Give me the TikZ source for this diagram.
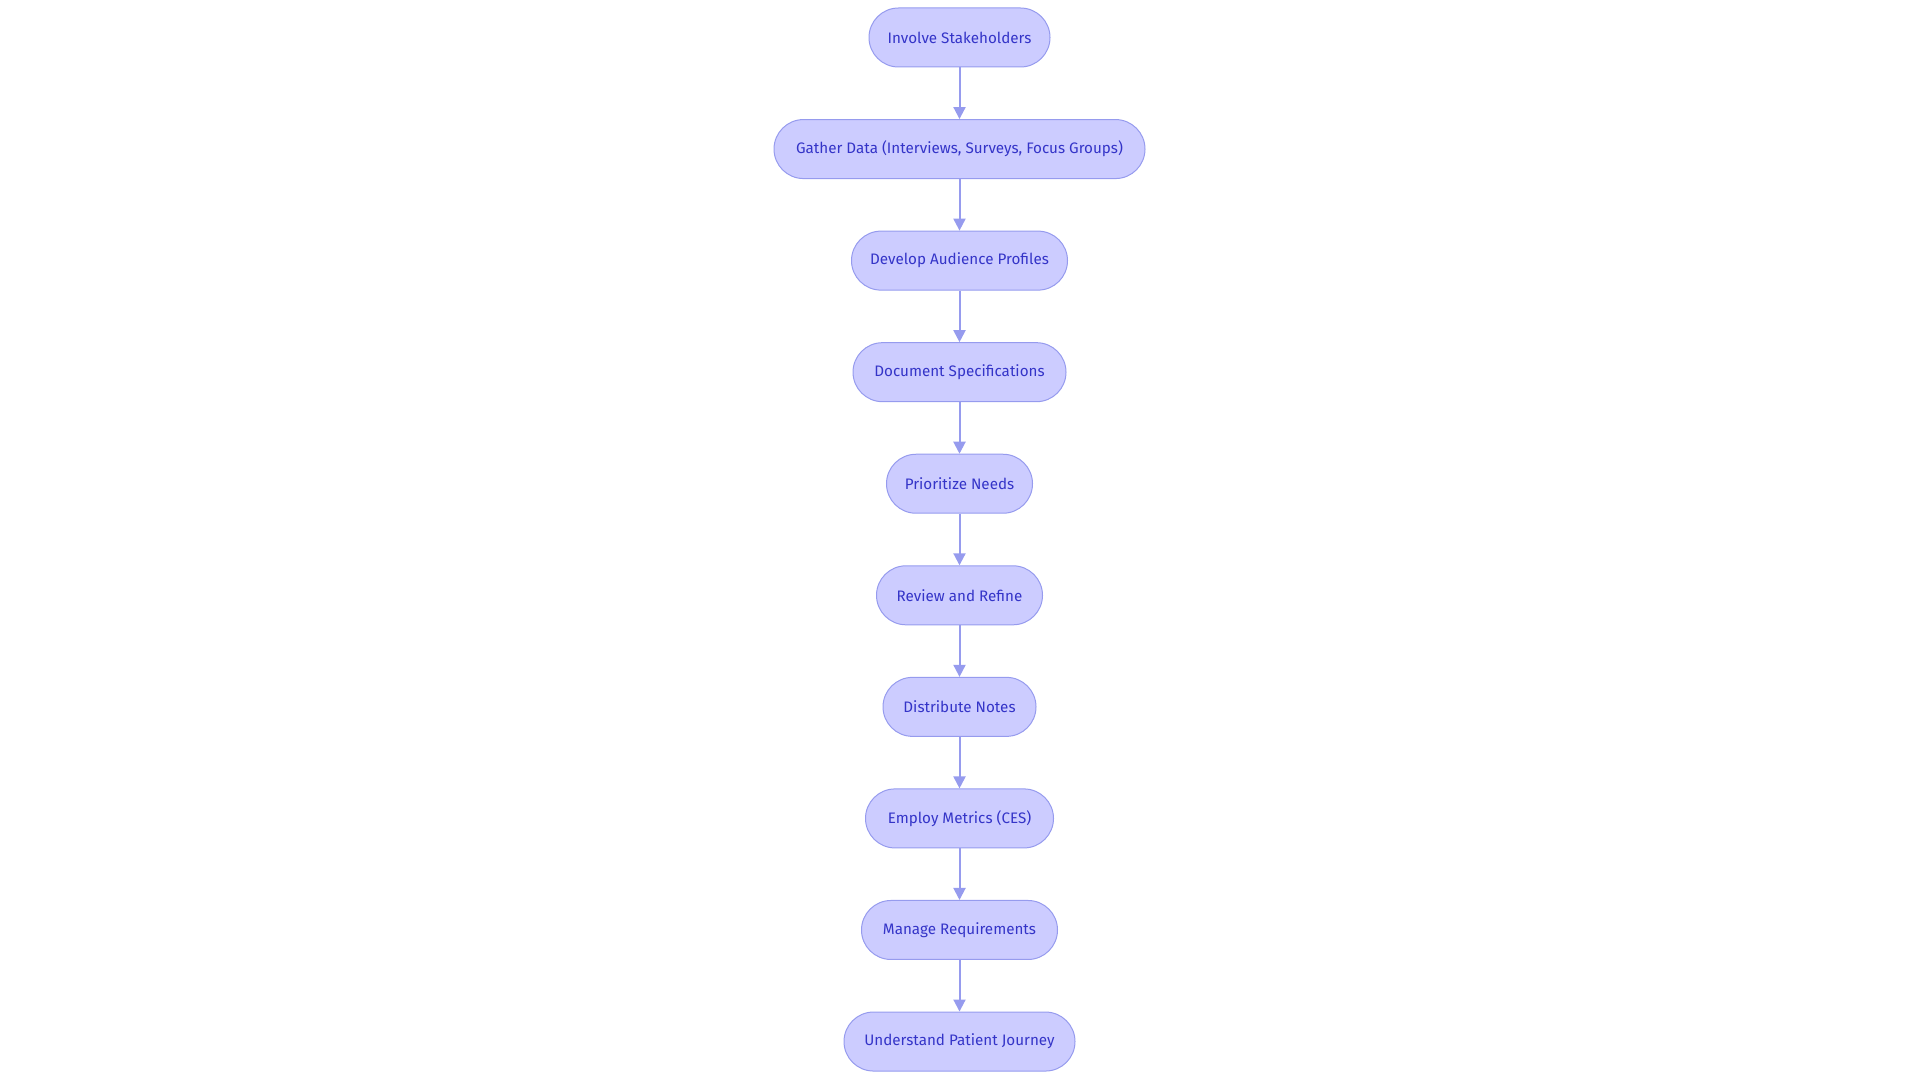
\documentclass[tikz,border=0pt]{standalone}
\usepackage{fontspec}
\setmainfont{Fira Sans}
\usetikzlibrary{arrows.meta}
\definecolor{nodefill}{RGB}{204,204,255}
\definecolor{nodeline}{RGB}{150,155,238}
\definecolor{nodetext}{RGB}{52,52,200}
\definecolor{arrowcol}{RGB}{150,155,238}
\tikzset{
  stepbox/.style={draw=nodeline, line width=1pt, fill=nodefill, text=nodetext,
    rounded corners=29.5pt, minimum height=59pt, inner sep=0pt,
    font=\fontsize{15.2}{18}\selectfont},
  flowarrow/.style={draw=arrowcol, line width=2pt, -{Triangle[length=12pt,width=12pt]}}
}
\begin{document}
\begin{tikzpicture}[x=1pt,y=-1pt]
\useasboundingbox (0,0) rectangle (1920,1083);
\node[stepbox, minimum width=181pt] (n1) at (959.5,37.5) {Involve Stakeholders};
\node[stepbox, minimum width=371pt] (n2) at (959.5,149.06) {Gather Data (Interviews, Surveys, Focus Groups)};
\node[stepbox, minimum width=216pt] (n3) at (959.5,260.62) {Develop Audience Profiles};
\node[stepbox, minimum width=213pt] (n4) at (959.5,372.18) {Document Specifications};
\node[stepbox, minimum width=146pt] (n5) at (959.5,483.74) {Prioritize Needs};
\node[stepbox, minimum width=166pt] (n6) at (959.5,595.3) {Review and Refine};
\node[stepbox, minimum width=153pt] (n7) at (959.5,706.86) {Distribute Notes};
\node[stepbox, minimum width=188pt] (n8) at (959.5,818.42) {Employ Metrics (CES)};
\node[stepbox, minimum width=196pt] (n9) at (959.5,929.98) {Manage Requirements};
\node[stepbox, minimum width=231pt] (n10) at (959.5,1041.54) {Understand Patient Journey};
\foreach \a/\b in {n1/n2,n2/n3,n3/n4,n4/n5,n5/n6,n6/n7,n7/n8,n8/n9,n9/n10}
  \draw[flowarrow] (\a) -- (\b);
\end{tikzpicture}
\end{document}
